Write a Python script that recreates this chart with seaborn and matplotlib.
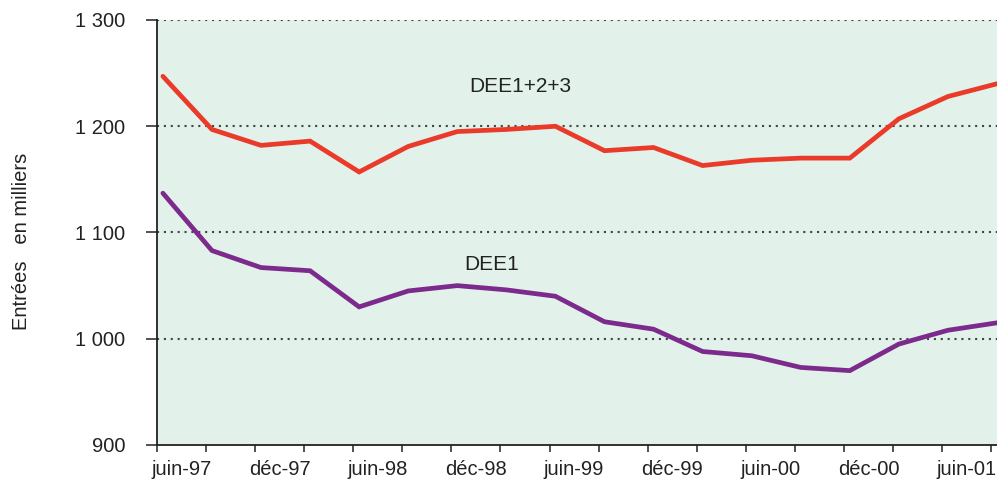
import pandas as pd
import numpy as np
import seaborn as sns
import matplotlib.pyplot as plt

# trimestres juin-97 -> sept-01
quarters = ["juin-97", "sept-97", "déc-97", "mars-98", "juin-98", "sept-98",
            "déc-98", "mars-99", "juin-99", "sept-99", "déc-99", "mars-00",
            "juin-00", "sept-00", "déc-00", "mars-01", "juin-01", "sept-01"]
dee123 = [1247, 1197, 1182, 1186, 1157, 1181, 1195, 1197, 1200, 1177,
          1180, 1163, 1168, 1170, 1170, 1207, 1228, 1240]
dee1 = [1137, 1083, 1067, 1064, 1030, 1045, 1050, 1046, 1040, 1016,
        1009, 988, 984, 973, 970, 995, 1008, 1015]
yticks = [900, 1000, 1100, 1200, 1300]
yticklabels = ["900", "1 000", "1 100", "1 200", "1 300"]
series_names = ["DEE1+2+3", "DEE1"]
colors = ["#e93a2a", "#7c2a8c"]

df = pd.DataFrame({
    "t": list(range(len(quarters))) * 2,
    "val": dee123 + dee1,
    "serie": [series_names[0]] * len(quarters) + [series_names[1]] * len(quarters),
})

sns.set_style("white")
plt.rcParams["font.family"] = ["Liberation Sans", "DejaVu Sans"]

fig = plt.figure(figsize=(9.97, 4.86), dpi=100)
ax = fig.add_axes([157 / 997, 1 - 445 / 486, 1 - 157 / 997, (445 - 20) / 486])
ax.set_facecolor("#e2f1ea")

sns.lineplot(data=df, x="t", y="val", hue="serie", palette=colors,
             hue_order=series_names, linewidth=3.4, legend=False, ax=ax,
             solid_joinstyle="miter")

off = 0.12
ax.set_xlim(-off, len(quarters) - 1)
ax.set_ylim(900, 1300)

for y in yticks[1:]:
    ax.axhline(y, color="#444444", linewidth=1.5, linestyle=(0, (1, 2.3)), zorder=0.5)

ax.set_yticks(yticks)
ax.set_yticklabels(yticklabels)
ax.tick_params(axis="y", which="major", direction="out", length=8, width=1.2,
               color="#333333", pad=15, labelsize=14.5, labelcolor="#222222", left=True)

# marques trimestrielles, libellés semestriels centrés sur le trimestre
ax.set_xticks([i - off for i in range(len(quarters))], minor=True)
ax.tick_params(axis="x", which="minor", direction="out", length=5, width=1.2,
               color="#333333", bottom=True)
lab_idx = list(range(0, len(quarters), 2))
ax.set_xticks([i - off + 0.5 for i in lab_idx])
ax.set_xticklabels([quarters[i] for i in lab_idx])
ax.tick_params(axis="x", which="major", length=0, pad=11, labelsize=14.5,
               labelcolor="#222222")

for s in ["top", "right"]:
    ax.spines[s].set_visible(False)
for s in ["left", "bottom"]:
    ax.spines[s].set_color("#222222")
    ax.spines[s].set_linewidth(1.3)

ax.set_xlabel("")
ax.set_ylabel("Entrées   en milliers", fontsize=14.5, color="#222222")
ax.yaxis.set_label_coords(-0.150, 0.48)

ax.text(7.28, 1237, "DEE1+2+3", fontsize=15, color="#222222", ha="center", va="center")
ax.text(6.7, 1070, "DEE1", fontsize=15, color="#222222", ha="center", va="center")

fig.savefig("out.png", dpi=100)
plt.close()
